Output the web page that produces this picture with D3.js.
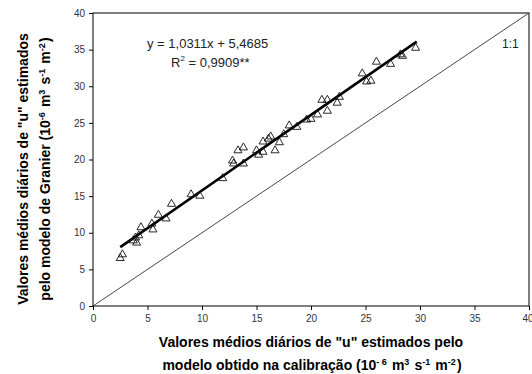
<!DOCTYPE html>
<html>
<head>
<meta charset="utf-8">
<script src="https://cdn.jsdelivr.net/npm/d3@7"></script>
<style>
  body { margin: 0; background: #fff; }
  svg { display: block; font-family: "Liberation Sans", Arial, sans-serif; }
</style>
</head>
<body>
<svg id="chart" width="532" height="374"></svg>
<script>
// observed (calibration model) vs estimated (Granier), 10^-6 m3 s-1 m-2
const xObs = [2.5, 2.7, 3.7, 4.0, 3.9, 4.2, 4.4, 5.5, 5.4, 6.0, 6.7, 7.2, 9.0, 9.8,
  11.9, 12.8, 12.9, 13.8, 13.3, 13.8, 15.0, 15.2, 15.6, 15.6, 16.1, 16.3, 16.7, 17.1, 17.5, 18.0,
  18.7, 19.6, 20.0, 20.6, 21.5, 21.0, 21.5, 22.4, 22.6,
  24.7, 25.1, 25.5, 26.0, 27.3, 28.2, 28.4, 29.6];
const yEst = [6.6, 7.1, 9.0, 8.7, 9.4, 9.7, 10.8, 10.5, 11.3, 12.5, 12.0, 14.0, 15.3, 15.1,
  17.5, 19.9, 19.5, 19.5, 21.3, 21.7, 21.3, 20.7, 21.1, 22.5, 22.9, 23.2, 21.3, 22.4, 23.5, 24.7,
  24.5, 25.5, 25.6, 26.2, 26.7, 28.2, 28.2, 27.8, 28.6,
  31.8, 30.7, 30.8, 33.4, 33.1, 34.4, 34.2, 35.3];
const xTicks = [0, 5, 10, 15, 20, 25, 30, 35, 40];
const yTicks = [0, 5, 10, 15, 20, 25, 30, 35, 40];
const slope = 1.0311, intercept = 5.4685;
const fitRange = [2.5, 29.7];
const equationText = "y = 1,0311x + 5,4685";

const MARGINS = { top: 13, right: 3, bottom: 68, left: 93 };
const svg = d3.select('#chart');
const width = 532 - MARGINS.left - MARGINS.right;
const height = 374 - MARGINS.top - MARGINS.bottom;

const scaleX = d3.scaleLinear().domain([0, 40]).range([0, width]);
const scaleY = d3.scaleLinear().domain([0, 40]).range([height, 0]);

const g = svg.append('g').attr('transform', `translate(${MARGINS.left},${MARGINS.top})`);

// frame
g.append('rect')
  .attr('width', width).attr('height', height)
  .attr('fill', 'none').attr('stroke', '#000').attr('stroke-width', 1);

const axisX = g.append('g').attr('transform', `translate(0,${height})`)
  .call(d3.axisBottom(scaleX).tickValues(xTicks).tickSize(4).tickPadding(5));
const axisY = g.append('g')
  .call(d3.axisLeft(scaleY).tickValues(yTicks).tickSize(4).tickPadding(4));
[axisX, axisY].forEach(ax => {
  ax.select('.domain').remove();
  ax.selectAll('line').attr('stroke', '#000');
  ax.selectAll('text').attr('fill', '#333').attr('font-size', 10)
    .attr('font-family', '"Liberation Sans", Arial, sans-serif');
});
// last x label sits on the edge, keep it inside the page
axisX.selectAll('text').filter(d => d === 40).attr('text-anchor', 'end').attr('dx', 4);

// 1:1 line
g.append('line')
  .attr('x1', scaleX(0)).attr('y1', scaleY(0))
  .attr('x2', scaleX(40)).attr('y2', scaleY(40))
  .attr('stroke', '#333').attr('stroke-width', 0.9);

// regression line
const fit = d3.line().x(d => scaleX(d)).y(d => scaleY(slope * d + intercept));
g.append('path').datum(fitRange)
  .attr('d', fit).attr('fill', 'none')
  .attr('stroke', '#000').attr('stroke-width', 2.6);

// triangles
const tri = d3.symbol().type(d3.symbolTriangle).size(28);
g.append('g').selectAll('path')
  .data(xObs.map((x, i) => [x, yEst[i]]))
  .join('path')
  .attr('d', tri)
  .attr('transform', d => `translate(${scaleX(d[0])},${scaleY(d[1]) + 0.5})`)
  .attr('fill', 'none').attr('stroke', '#111').attr('stroke-width', 0.9);

// equation
g.append('text').attr('x', 54).attr('y', 35)
  .attr('font-size', 13).attr('fill', '#222').text(equationText);
const r2 = g.append('text').attr('x', 78).attr('y', 54)
  .attr('font-size', 13).attr('fill', '#222');
r2.append('tspan').text('R');
r2.append('tspan').attr('font-size', 8).attr('dy', -6).text('2');
r2.append('tspan').attr('dy', 6).text(' = 0,9909**');

g.append('text').attr('x', 409).attr('y', 35)
  .attr('font-size', 12).attr('fill', '#222').text('1:1');

// axis titles with superscripts
function titleLine(sel, parts) {
  parts.forEach(p => {
    if (p.sup) {
      sel.append('tspan').attr('font-size', 9).attr('dy', -5).text(p.t);
      sel.append('tspan').attr('dy', 5).text('\u200A');
    } else {
      sel.append('tspan').text(p.t);
    }
  });
}

const xt = svg.append('g').attr('font-weight', 'bold').attr('font-size', 14)
  .attr('text-anchor', 'middle').attr('fill', '#000');
xt.append('text').attr('x', 311).attr('y', 347)
  .text('Valores médios diários de "u" estimados pelo');
titleLine(xt.append('text').attr('x', 312).attr('y', 370), [
  { t: 'modelo obtido na calibração (10' }, { t: '- 6', sup: true }, { t: ' m' },
  { t: '3', sup: true }, { t: ' s' }, { t: '-1', sup: true }, { t: ' m' },
  { t: '-2', sup: true }, { t: ')' }]);

const yt = svg.append('g').attr('font-weight', 'bold').attr('font-size', 14)
  .attr('text-anchor', 'middle').attr('fill', '#000')
  .attr('transform', 'translate(0,169) rotate(-90)');
yt.append('text').attr('x', 0).attr('y', 28)
  .text('Valores médios diários de "u" estimados');
titleLine(yt.append('text').attr('x', 0).attr('y', 50), [
  { t: 'pelo modelo de Granier (10' }, { t: '-6', sup: true }, { t: ' m' },
  { t: '3', sup: true }, { t: ' s' }, { t: '-1', sup: true }, { t: ' m' },
  { t: '-2', sup: true }, { t: ')' }]);
</script>
</body>
</html>
